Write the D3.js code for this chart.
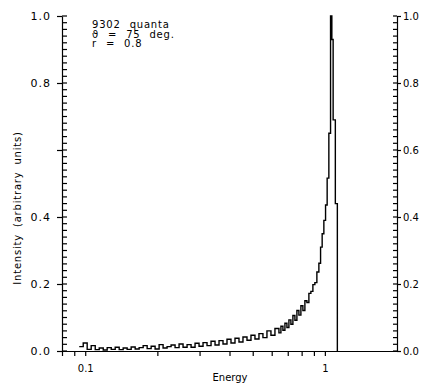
<!DOCTYPE html>
<html>
<head>
<meta charset="utf-8">
<script src="https://cdn.jsdelivr.net/npm/d3@7"></script>
<style>
  html, body { margin: 0; padding: 0; background: #fff; }
  svg { display: block; }
  text { font-family: "DejaVu Sans", sans-serif; fill: #000; }
</style>
</head>
<body>
<svg id="chart" width="427" height="388"></svg>
<script>
// ---- data (bin left edges in energy, last entry is the closing edge) ----
const energy = [
  0.0944, 0.0981, 0.1019, 0.1059, 0.1101, 0.1144, 0.1189, 0.1235, 0.1284, 0.1334,
  0.1386, 0.1440, 0.1496, 0.1555, 0.1616, 0.1679, 0.1745, 0.1813, 0.1884, 0.1957,
  0.2034, 0.2113, 0.2196, 0.2282, 0.2371, 0.2464, 0.2560, 0.2661, 0.2765, 0.2873,
  0.2985, 0.3102, 0.3223, 0.3350, 0.3481, 0.3617, 0.3758, 0.3905, 0.4058, 0.4217,
  0.4382, 0.4553, 0.4732, 0.4917, 0.5109, 0.5309, 0.5516, 0.5732, 0.5957, 0.6190,
  0.6432, 0.6556, 0.6683, 0.6813, 0.6945, 0.7079, 0.7216, 0.7356, 0.7499, 0.7644,
  0.7792, 0.7943, 0.8097, 0.8254, 0.8414, 0.8577, 0.8743, 0.8913, 0.9085, 0.9261,
  0.9441, 0.9596, 0.9744, 0.9904, 1.0067, 1.0223, 1.0391, 1.0562, 1.0694, 1.0828,
  1.1059, 1.1275
];
const intensity = [
  0.013, 0.024, 0.005, 0.016, 0.004, 0.009, 0.003, 0.010, 0.005, 0.011,
  0.004, 0.009, 0.005, 0.012, 0.006, 0.010, 0.016, 0.007, 0.014, 0.006,
  0.019, 0.009, 0.013, 0.018, 0.010, 0.021, 0.011, 0.019, 0.011, 0.023,
  0.014, 0.025, 0.016, 0.029, 0.018, 0.031, 0.021, 0.035, 0.024, 0.038,
  0.027, 0.042, 0.032, 0.047, 0.036, 0.052, 0.040, 0.060, 0.047, 0.067,
  0.054, 0.074, 0.062, 0.083, 0.070, 0.093, 0.080, 0.106, 0.092, 0.121,
  0.107, 0.135, 0.121, 0.150, 0.145, 0.172, 0.178, 0.198, 0.204, 0.236,
  0.262, 0.310, 0.350, 0.390, 0.436, 0.516, 0.650, 1.000, 0.930, 0.690,
  0.440, 0.000
];
const xDomain = [0.08, 2];
const yDomain = [0, 1];
const xTickValues = [0.08, 0.09, 0.1, 0.2, 0.3, 0.4, 0.5, 0.6, 0.7, 0.8, 0.9, 1];
const xTickLabels = {0.1: "0.1", 1: "1"};
const yMajorTicks = [0, 0.2, 0.4, 0.6, 0.8, 1.0];
const yMinorTicks = [0, 0.02, 0.04, 0.06, 0.08, 0.1, 0.12, 0.14, 0.16, 0.18,
  0.2, 0.22, 0.24, 0.26, 0.28, 0.3, 0.32, 0.34, 0.36, 0.38,
  0.4, 0.42, 0.44, 0.46, 0.48, 0.5, 0.52, 0.54, 0.56, 0.58,
  0.6, 0.62, 0.64, 0.66, 0.68, 0.7, 0.72, 0.74, 0.76, 0.78,
  0.8, 0.82, 0.84, 0.86, 0.88, 0.9, 0.92, 0.94, 0.96, 0.98, 1.0];
const yLeftHiddenLabels = [0.6];
const annotation = ["9302 quanta", "\u03D1 = 75 deg.", "r = 0.8"];
const xTitle = "Energy";
const yTitle = "Intensity (arbitrary units)";

// ---- layout ----
const mLeft = 62, mRight = 397, mTop = 16, mBottom = 351;
const svg = d3.select("#chart");

const x = d3.scaleLog().domain(xDomain).range([mLeft, mRight]);
const y = d3.scaleLinear().domain(yDomain).range([mBottom, mTop]);

function styleAxis(g) {
  g.selectAll("path.domain").attr("stroke", "#000").attr("stroke-width", 1.2);
  g.selectAll(".tick line").attr("stroke", "#000").attr("stroke-width", 1.2);
}

// Minor ticks (inside) on left and right axes
const minorG = svg.append("g").attr("stroke", "#000").attr("stroke-width", 1.2);
minorG.selectAll("line.ml").data(yMinorTicks).join("line").attr("class", "ml")
  .attr("x1", mLeft).attr("x2", mLeft + 5)
  .attr("y1", d => y(d)).attr("y2", d => y(d));
minorG.selectAll("line.mr").data(yMinorTicks).join("line").attr("class", "mr")
  .attr("x1", mRight - 4).attr("x2", mRight)
  .attr("y1", d => y(d)).attr("y2", d => y(d));

// Left axis: major ticks outside with labels
const gl = svg.append("g").attr("transform", `translate(${mLeft},0)`)
  .call(d3.axisLeft(y).tickValues(yMajorTicks).tickSize(5).tickSizeOuter(0).tickPadding(6)
    .tickFormat(d => yLeftHiddenLabels.includes(d) ? "" : d3.format(".1f")(d)))
  .call(styleAxis);
gl.selectAll(".tick text").attr("font-size", 11).attr("letter-spacing", "1px")
  .attr("font-family", "DejaVu Sans");

// Right axis: major ticks outside with labels
const gr = svg.append("g").attr("transform", `translate(${mRight},0)`)
  .call(d3.axisRight(y).tickValues(yMajorTicks).tickSize(4).tickSizeOuter(0).tickPadding(2)
    .tickFormat(d3.format(".1f")))
  .call(styleAxis);
gr.selectAll(".tick text").attr("font-size", 10).attr("font-family", "DejaVu Sans");

// Bottom axis
const gb = svg.append("g").attr("transform", `translate(0,${mBottom})`)
  .call(d3.axisBottom(x).tickValues(xTickValues).tickSize(5).tickSizeOuter(0).tickPadding(9)
    .tickFormat(d => xTickLabels[d] || ""))
  .call(styleAxis);
gb.selectAll(".tick text").attr("font-size", 10).attr("font-family", "DejaVu Sans");

// Spectrum (step histogram)
const pts = energy.map((e, i) => [e, intensity[i]]);
const line = d3.line().x(d => x(d[0])).y(d => y(d[1])).curve(d3.curveStepAfter);
svg.append("path").datum(pts)
  .attr("d", line)
  .attr("fill", "none")
  .attr("stroke", "#000")
  .attr("stroke-width", 1.4)
  .attr("stroke-linejoin", "miter");

// Annotation
const ann = svg.append("text")
  .attr("font-size", 10).attr("letter-spacing", "0.8px").attr("word-spacing", "5px");
annotation.forEach((t, i) => {
  ann.append("tspan").attr("x", 92).attr("y", 28 + i * 9.5).text(t);
});

// Axis titles
svg.append("text").attr("x", 230).attr("y", 381)
  .attr("text-anchor", "middle").attr("font-size", 10).text(xTitle);
svg.append("text")
  .attr("transform", "translate(21,208) rotate(-90)")
  .attr("text-anchor", "middle").attr("font-size", 10)
  .attr("letter-spacing", "0.8px").attr("word-spacing", "3px")
  .text(yTitle);
</script>
</body>
</html>
